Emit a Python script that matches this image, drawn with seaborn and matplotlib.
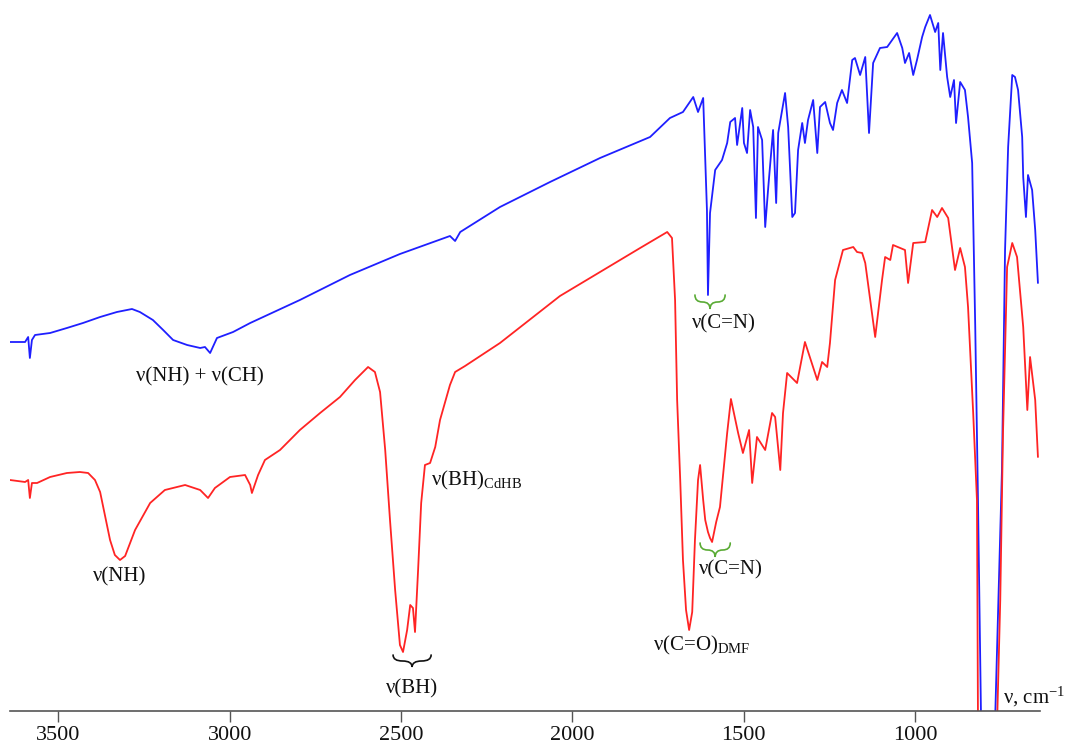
import numpy as np
import pandas as pd
import matplotlib
matplotlib.use("Agg")
import matplotlib.pyplot as plt
from matplotlib.path import Path
from matplotlib.patches import PathPatch
import seaborn as sns

# IR spectra: wavenumber (cm^-1) and transmittance (arbitrary units, offset traces)
ligand_wavenumber = [
    3641, 3597, 3588, 3583, 3577, 3568, 3524, 3475, 3428, 3378, 3329, 3285, 3262,
    3224, 3194, 3165, 3124, 3086, 3072, 3057, 3037, 2990, 2940, 2795, 2649, 2503,
    2357, 2342, 2327, 2211, 2065, 1919, 1773, 1715, 1677, 1647, 1633, 1618, 1607,
    1604, 1598, 1583, 1563, 1548, 1539, 1525, 1519, 1504, 1499, 1490, 1481, 1472,
    1464, 1458, 1446, 1437, 1428, 1414, 1405, 1399, 1379, 1370, 1358, 1350, 1341,
    1329, 1321, 1312, 1297, 1285, 1277, 1262, 1248, 1239, 1227, 1213, 1198, 1183,
    1175, 1160, 1145, 1134, 1122, 1102, 1081, 1052, 1037, 1029, 1017, 1005, 994,
    979, 970, 956, 941, 932, 926, 918, 906, 897, 886, 880, 868, 854, 845, 833, 824,
    816, 807, 766, 746, 737, 728, 716, 708, 699, 687, 684, 676, 670, 658, 649, 641,
]
ligand_transmittance = [
    369, 369, 374, 353, 371, 376, 378, 383, 388, 394, 399, 402, 399,
    391, 381, 371, 366, 363, 364, 358, 373, 379, 388, 411, 436, 457,
    475, 470, 479, 504, 529, 553, 574, 593, 599, 614, 599, 613, 501,
    416, 498, 541, 551, 568, 589, 593, 566, 603, 568, 558, 601, 584,
    493, 584, 571, 484, 524, 581, 508, 578, 618, 584, 494, 498, 561,
    588, 568, 591, 611, 558, 604, 609, 588, 581, 608, 621, 608, 651,
    653, 636, 654, 578, 648, 663, 664, 678, 663, 648, 658, 636, 651,
    674, 684, 696, 679, 688, 641, 678, 634, 614, 631, 588, 629, 621, 594, 548, 384,
    211, -9, -9, 241, 461, 564, 636, 634, 621, 574, 534, 494, 536, 521, 481, 428,
]

complex_wavenumber = [
    3641, 3597, 3588, 3583, 3577, 3562, 3524, 3475, 3437, 3413, 3393, 3378, 3364,
    3349, 3335, 3320, 3305, 3276, 3232, 3189, 3130, 3086, 3063, 3043, 2999, 2955,
    2940, 2935, 2917, 2897, 2853, 2795, 2736, 2678, 2634, 2596, 2576, 2561, 2546,
    2532, 2517, 2503, 2494, 2482, 2473, 2465, 2459, 2450, 2441, 2430, 2415, 2400,
    2386, 2357, 2342, 2313, 2211, 2036, 1919, 1802, 1723, 1709, 1700, 1694, 1685,
    1677, 1668, 1659, 1650, 1642, 1633, 1627, 1618, 1612, 1604, 1598, 1592, 1580,
    1569, 1548, 1537, 1516, 1502, 1484, 1475, 1461, 1437, 1417, 1408, 1393, 1385,
    1373, 1344, 1321, 1285, 1271, 1256, 1248, 1233, 1210, 1180, 1169, 1154, 1145,
    1116, 1096, 1087, 1072, 1064, 1043, 1029, 1020, 1005, 970, 950, 935, 921, 903,
    883, 868, 854, 845, 830, 819, 816, 760, 751, 743, 731, 716, 702, 684, 672, 664,
    649, 641,
]
complex_transmittance = [
    231, 229, 231, 213, 228, 228, 234, 238, 239, 238, 231, 219, 196,
    171, 156, 151, 155, 181, 208, 221, 226, 221, 213, 223, 234, 236,
    226, 218, 236, 251, 261, 281, 298, 314, 331, 344, 339, 319, 261,
    191, 121, 66, 59, 81, 106, 103, 79, 141, 208, 246, 248, 264,
    291, 326, 339, 345, 368, 415, 439, 463, 479, 473, 411, 311, 231,
    151, 101, 81, 99, 171, 231, 246, 211, 191, 179, 173, 169, 189,
    204, 278, 312, 278, 258, 281, 228, 274, 261, 298, 294, 241, 298,
    338, 328, 369, 331, 349, 344, 368, 431, 461, 464, 459, 458, 448,
    374, 431, 454, 451, 466, 463, 461, 428, 468, 469, 501, 494, 503, 493,
    441, 463, 444, 404, 298, 211, -9, -9, 111, 278, 444, 468, 454, 384, 301, 354,
    311, 254,
]

tick_values = [3500, 3000, 2500, 2000, 1500, 1000]

samples = ["ligand", "complex"]
colors = {"ligand": "#1f1fff", "complex": "#ff2424"}

df = pd.concat([
    pd.DataFrame({"wavenumber": ligand_wavenumber,
                  "transmittance": ligand_transmittance,
                  "sample": "ligand"}),
    pd.DataFrame({"wavenumber": complex_wavenumber,
                  "transmittance": complex_transmittance,
                  "sample": "complex"}),
], ignore_index=True)

sns.set_theme(style="white")
plt.rcParams["font.family"] = ["Liberation Serif", "DejaVu Serif"]
plt.rcParams["mathtext.fontset"] = "custom"
plt.rcParams["mathtext.rm"] = "Liberation Serif"
plt.rcParams["mathtext.it"] = "Liberation Serif:italic"

fig = plt.figure(figsize=(10.65, 7.49), dpi=100)
ax = fig.add_axes([10 / 1065, 38 / 749, 1030 / 1065, 711 / 749])

sns.lineplot(data=df, x="wavenumber", y="transmittance", hue="sample",
             hue_order=samples, palette=colors, sort=False, estimator=None,
             legend=False, linewidth=1.3, ax=ax)

ax.set_xlim(3641, 635)
ax.set_ylim(0, 711)
ax.set_xlabel("")
ax.set_ylabel("")
ax.set_yticks([])
ax.set_xticks(tick_values)
ax.set_xticklabels([str(t) for t in tick_values])
ax.tick_params(axis="x", direction="out", length=8, width=1.0, color="#555555",
               labelsize=16, labelcolor="#111111", pad=3, bottom=True)
for side in ("top", "left", "right"):
    ax.spines[side].set_visible(False)
ax.spines["bottom"].set_color("#555555")
ax.spines["bottom"].set_linewidth(1.2)


def brace(ax, x0, x1, y_top, depth, color, lw=1.2):
    """Horizontal curly brace between x0 and x1, tip pointing down."""
    xc = 0.5 * (x0 + x1)
    q = 0.25 * (x1 - x0)
    ym = y_top - depth / 2
    yb = y_top - depth
    verts = [
        (x0, y_top), (x0, ym), (x0 + q, ym),
        (xc - q, ym),
        (xc, ym), (xc, yb),
        (xc, ym), (xc + q, ym),
        (x1 - q, ym),
        (x1, ym), (x1, y_top),
    ]
    codes = [Path.MOVETO, Path.CURVE3, Path.CURVE3,
             Path.LINETO,
             Path.CURVE3, Path.CURVE3,
             Path.CURVE3, Path.CURVE3,
             Path.LINETO,
             Path.CURVE3, Path.CURVE3]
    ax.add_patch(PathPatch(Path(verts, codes), fill=False, edgecolor=color,
                           linewidth=lw, capstyle="round"))


label_kw = dict(fontsize=15, color="#111111")
green = "#5aab35"

ax.text(3086, 334, "ν(NH) + ν(CH)", ha="center", va="center", **label_kw)
ax.text(3320, 134, "ν(NH)", ha="center", va="center", **label_kw)
ax.text(2412, 231, r"ν(BH)$_{\mathrm{CdHB}}$", ha="left", va="center", **label_kw)

brace(ax, 2523, 2412, 56, 12, "#111111")
ax.text(2468, 22, "ν(BH)", ha="center", va="center", **label_kw)

ax.text(1764, 66, r"ν(C=O)$_{\mathrm{DMF}}$", ha="left", va="center", **label_kw)

brace(ax, 1627, 1539, 168, 14, green)
ax.text(1537, 141, "ν(C=N)", ha="center", va="center", **label_kw)

brace(ax, 1642, 1554, 416, 14, green)
ax.text(1557, 387, "ν(C=N)", ha="center", va="center", **label_kw)

ax.text(743, 14, r"ν, cm$^{-1}$", ha="left", va="center", clip_on=False,
        **label_kw)

fig.savefig("out.png", dpi=100, facecolor="white")
